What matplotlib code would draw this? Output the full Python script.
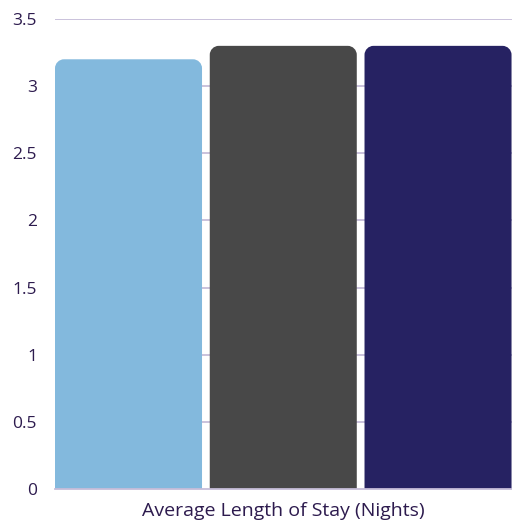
import matplotlib
matplotlib.use("Agg")
import matplotlib.pyplot as plt
from matplotlib.path import Path
from matplotlib.patches import PathPatch

category = "Average Length of Stay (Nights)"
series_names = ["Series A", "Series B", "Series C"]
values = [3.2, 3.3, 3.3]
colors = ["#83b9dd", "#484848", "#262262"]
yticks = [0, 0.5, 1, 1.5, 2, 2.5, 3, 3.5]
ytick_labels = ["0", "0.5", "1", "1.5", "2", "2.5", "3", "3.5"]

text_color = "#2d1b4e"
grid_color = "#c6bdd9"

plt.rcParams["font.family"] = ["Open Sans", "DejaVu Sans"]

fig = plt.figure(figsize=(5.12, 5.21), dpi=100)
ax = fig.add_axes([55 / 512, 32 / 521, 457 / 512, 470 / 521])

positions = [-1, 0, 1]
bar_width = 0.95
ax.set_xlim(-1.475, 1.478)
ax.set_ylim(0, 3.5)

# gridlines behind bars
for t in yticks[1:]:
    ax.axhline(t, color=grid_color, lw=1.3, zorder=0)

fig.canvas.draw()
# convert a corner radius in pixels to data units on each axis
bbox = ax.get_window_extent()
x0, x1 = ax.get_xlim()
y0, y1 = ax.get_ylim()
radius_px = 9
rx = radius_px * (x1 - x0) / bbox.width
ry = radius_px * (y1 - y0) / bbox.height
k = 0.5523

for pos, val, col in zip(positions, values, colors):
    left = pos - bar_width / 2
    right = pos + bar_width / 2
    verts = [
        (left, 0),
        (left, val - ry),
        (left, val - ry + k * ry), (left + rx - k * rx, val), (left + rx, val),
        (right - rx, val),
        (right - rx + k * rx, val), (right, val - ry + k * ry), (right, val - ry),
        (right, 0),
        (left, 0),
    ]
    codes = [Path.MOVETO, Path.LINETO,
             Path.CURVE4, Path.CURVE4, Path.CURVE4,
             Path.LINETO,
             Path.CURVE4, Path.CURVE4, Path.CURVE4,
             Path.LINETO, Path.CLOSEPOLY]
    ax.add_patch(PathPatch(Path(verts, codes), facecolor=col, edgecolor="none", zorder=2))

for side in ["top", "right", "left"]:
    ax.spines[side].set_visible(False)
ax.spines["bottom"].set_color(grid_color)
ax.spines["bottom"].set_linewidth(1.3)
ax.spines["bottom"].set_zorder(3)

ax.set_yticks(yticks)
ax.set_yticklabels(ytick_labels)
ax.tick_params(axis="y", length=0, pad=13, labelsize=12.5, labelcolor=text_color)
ax.set_xticks([0])
ax.set_xticklabels([category])
ax.tick_params(axis="x", length=0, pad=9, labelsize=14, labelcolor=text_color)

fig.savefig("out.png", dpi=100)
